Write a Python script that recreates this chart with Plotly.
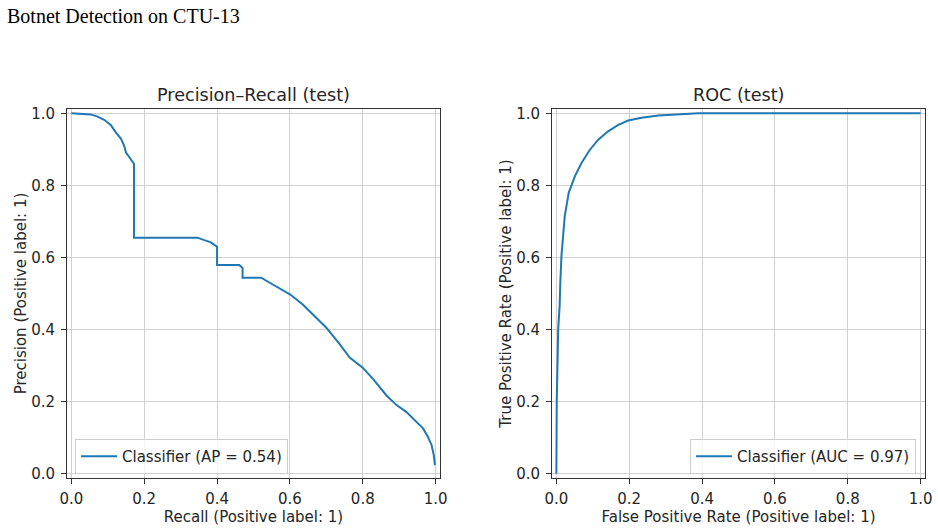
import plotly.graph_objects as go

# Precision-Recall curve
pr_recall = [0.0, 0.053, 0.072, 0.090, 0.108, 0.122, 0.136, 0.145, 0.150, 0.159, 0.172,
             0.172, 0.346, 0.365, 0.383, 0.400,
             0.400, 0.461, 0.470, 0.470, 0.521, 0.553, 0.571, 0.601, 0.636, 0.663, 0.700,
             0.737, 0.764, 0.799, 0.828, 0.865, 0.892, 0.920, 0.947, 0.966, 0.979, 0.989,
             0.995, 0.998]
pr_precision = [1.0, 0.997, 0.991, 0.982, 0.968, 0.947, 0.930, 0.910, 0.891, 0.878, 0.860,
                0.655, 0.655, 0.648, 0.642, 0.630,
                0.579, 0.579, 0.571, 0.544, 0.544, 0.525, 0.515, 0.497, 0.469, 0.442, 0.405,
                0.359, 0.322, 0.295, 0.263, 0.217, 0.191, 0.171, 0.143, 0.125, 0.102, 0.079,
                0.051, 0.024]

# ROC curve
roc_fpr = [0.0, 0.0, 0.001, 0.005, 0.009, 0.011, 0.014, 0.023, 0.034, 0.051, 0.069, 0.092,
           0.115, 0.142, 0.170, 0.197, 0.234, 0.280, 0.344, 0.390, 1.0]
roc_tpr = [0.0, 0.05, 0.20, 0.40, 0.467, 0.536, 0.605, 0.715, 0.780, 0.826, 0.862, 0.899,
           0.927, 0.950, 0.968, 0.980, 0.988, 0.994, 0.998, 1.0, 1.0]

ticks = [0.0, 0.2, 0.4, 0.6, 0.8, 1.0]
tick_text = ["0.0", "0.2", "0.4", "0.6", "0.8", "1.0"]

blue = "#1f77b4"
font = "DejaVu Sans"
txt = "#262626"

fig = go.Figure()
fig.add_trace(go.Scatter(x=pr_recall, y=pr_precision, mode="lines",
                         line=dict(color=blue, width=2), name="Classifier (AP = 0.54)",
                         xaxis="x", yaxis="y", legend="legend"))
fig.add_trace(go.Scatter(x=roc_fpr, y=roc_tpr, mode="lines",
                         line=dict(color=blue, width=2), name="Classifier (AUC = 0.97)",
                         xaxis="x2", yaxis="y2", legend="legend2"))

W, H = 938, 529
ax_common = dict(
    range=[-0.012, 1.012], tickvals=ticks, ticktext=tick_text, automargin=False,
    showline=True, mirror=True, linecolor="#333333", linewidth=1,
    ticks="outside", ticklen=5, tickcolor="#333333", tickwidth=1,
    showgrid=True, gridcolor="#d0d0d0", gridwidth=1, zeroline=False,
    tickfont=dict(family=font, size=15, color=txt),
    title_font=dict(family=font, size=15, color=txt),
)
legend_common = dict(
    yanchor="bottom", bgcolor="rgba(255,255,255,0.8)", bordercolor="#cccccc", borderwidth=1,
    font=dict(family=font, size=15, color=txt), itemwidth=36,
)
fig.update_layout(
    width=W, height=H,
    margin=dict(l=0, r=0, t=0, b=0, autoexpand=False),
    paper_bgcolor="white", plot_bgcolor="white",
    xaxis=dict(domain=[67 / W, 440 / W], anchor="y", ticklabelstandoff=2,
               title=dict(text="Recall (Positive label: 1)", standoff=2), **ax_common),
    yaxis=dict(domain=[1 - 478 / H, 1 - 109 / H], anchor="x", ticklabelstandoff=3,
               title=dict(text="Precision (Positive label: 1)", standoff=0), **ax_common),
    xaxis2=dict(domain=[552 / W, 925 / W], anchor="y2", ticklabelstandoff=2,
                title=dict(text="False Positive Rate (Positive label: 1)", standoff=2), **ax_common),
    yaxis2=dict(domain=[1 - 478 / H, 1 - 109 / H], anchor="x2", ticklabelstandoff=3,
                title=dict(text="True Positive Rate (Positive label: 1)", standoff=0), **ax_common),
    legend=dict(x=75 / W, y=1 - 474 / H, xanchor="left", **legend_common),
    legend2=dict(x=916 / W, y=1 - 474 / H, xanchor="right", **legend_common),
    showlegend=True,
    annotations=[
        dict(text="Botnet Detection on CTU-13", x=5 / W, y=1 - 16 / H, xref="paper", yref="paper",
             xanchor="left", yanchor="middle", showarrow=False,
             font=dict(family="Liberation Serif", size=20, color="black")),
        dict(text="Precision–Recall (test)", x=(67 + 440) / 2 / W, y=1 - 95 / H, xref="paper", yref="paper",
             xanchor="center", yanchor="middle", showarrow=False,
             font=dict(family=font, size=17.6, color=txt)),
        dict(text="ROC (test)", x=(552 + 925) / 2 / W, y=1 - 95 / H, xref="paper", yref="paper",
             xanchor="center", yanchor="middle", showarrow=False,
             font=dict(family=font, size=17.6, color=txt)),
    ],
)

fig.write_html("out.html")
